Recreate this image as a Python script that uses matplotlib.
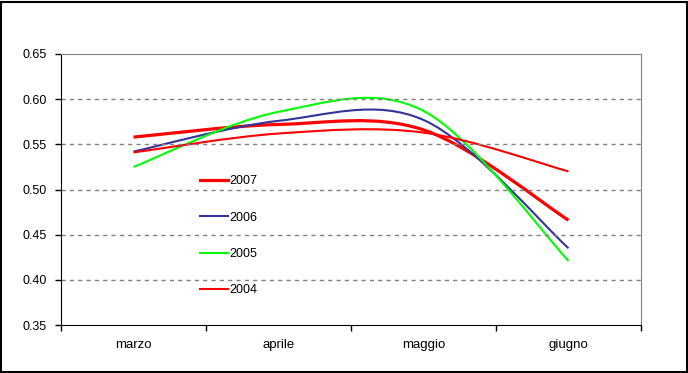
import matplotlib
matplotlib.use("Agg")
import matplotlib.pyplot as plt
from matplotlib.path import Path
from matplotlib.patches import PathPatch, Rectangle
from matplotlib.lines import Line2D

months = ["marzo", "aprile", "maggio", "giugno"]
years = ["2007", "2006", "2005", "2004"]
v2007 = [0.558, 0.572, 0.566, 0.466]
v2006 = [0.542, 0.576, 0.577, 0.435]
v2005 = [0.525, 0.586, 0.587, 0.421]
v2004 = [0.541, 0.562, 0.563, 0.520]
series = [v2007, v2006, v2005, v2004]
colors = ["#FF0000", "#333399", "#00FF00", "#FF0000"]
widths = [2.3, 1.5, 1.5, 1.5]


def smooth_path(xs, ys):
    # excel-like smoothed line: cubic bezier, control points from neighbours
    pts = list(zip(xs, ys))
    n = len(pts)
    verts = [pts[0]]
    codes = [Path.MOVETO]
    for i in range(n - 1):
        p0 = pts[i - 1] if i > 0 else pts[i]
        p1 = pts[i]
        p2 = pts[i + 1]
        p3 = pts[i + 2] if i + 2 < n else pts[i + 1]
        c1 = (p1[0] + (p2[0] - p0[0]) / 6, p1[1] + (p2[1] - p0[1]) / 6)
        c2 = (p2[0] - (p3[0] - p1[0]) / 6, p2[1] - (p3[1] - p1[1]) / 6)
        verts += [c1, c2, p2]
        codes += [Path.CURVE4] * 3
    return Path(verts, codes)


plt.rcParams['font.family'] = ['Liberation Sans', 'DejaVu Sans']
fig = plt.figure(figsize=(6.88, 3.73), dpi=100)
ax = fig.add_axes([61 / 688, 1 - 325 / 373, 580 / 688, 271 / 373])

x = [i + 0.5 for i in range(len(months))]
for vals, c, lw in zip(series, colors, widths):
    ax.add_patch(PathPatch(smooth_path(x, vals), facecolor="none",
                           edgecolor=c, lw=lw, capstyle="butt"))

ax.set_xlim(0, 4)
ax.set_ylim(0.35, 0.65)
ax.set_yticks([0.35, 0.40, 0.45, 0.50, 0.55, 0.60, 0.65])
ax.set_yticklabels(["%.2f" % t for t in ax.get_yticks()], fontsize=9)
ax.set_xticks([0, 1, 2, 3, 4])
ax.set_xticklabels([])
ax.set_xticks(x, minor=True)
ax.set_xticklabels(months, minor=True, fontsize=9.5)
ax.tick_params(axis="x", which="minor", length=0, pad=10)
ax.tick_params(axis="x", which="major", length=4, width=1, color="black")
ax.tick_params(axis="y", length=4, width=1, color="black", pad=6)

for t in [0.40, 0.45, 0.50, 0.55, 0.60]:
    ax.axhline(t, color="#808080", lw=1, ls=(0, (3, 3)))

ax.spines["left"].set_color("black")
ax.spines["bottom"].set_color("black")
ax.spines["top"].set_color("#808080")
ax.spines["right"].set_color("#808080")

handles = [Line2D([], [], color=c, lw=lw) for c, lw in zip(colors, widths)]
leg = ax.legend(handles, years, loc="upper left",
                bbox_to_anchor=(128 / 580, (325 - 164) / 271),
                frameon=False, fontsize=9, handlelength=2.2,
                handletextpad=0.1, labelspacing=1.95)

fig.patches.append(Rectangle((0.5 / 688, 1.5 / 373), 686 / 688, 370 / 373,
                             transform=fig.transFigure, fill=False,
                             edgecolor="black", lw=1.5))

fig.savefig("out.png", dpi=100)
